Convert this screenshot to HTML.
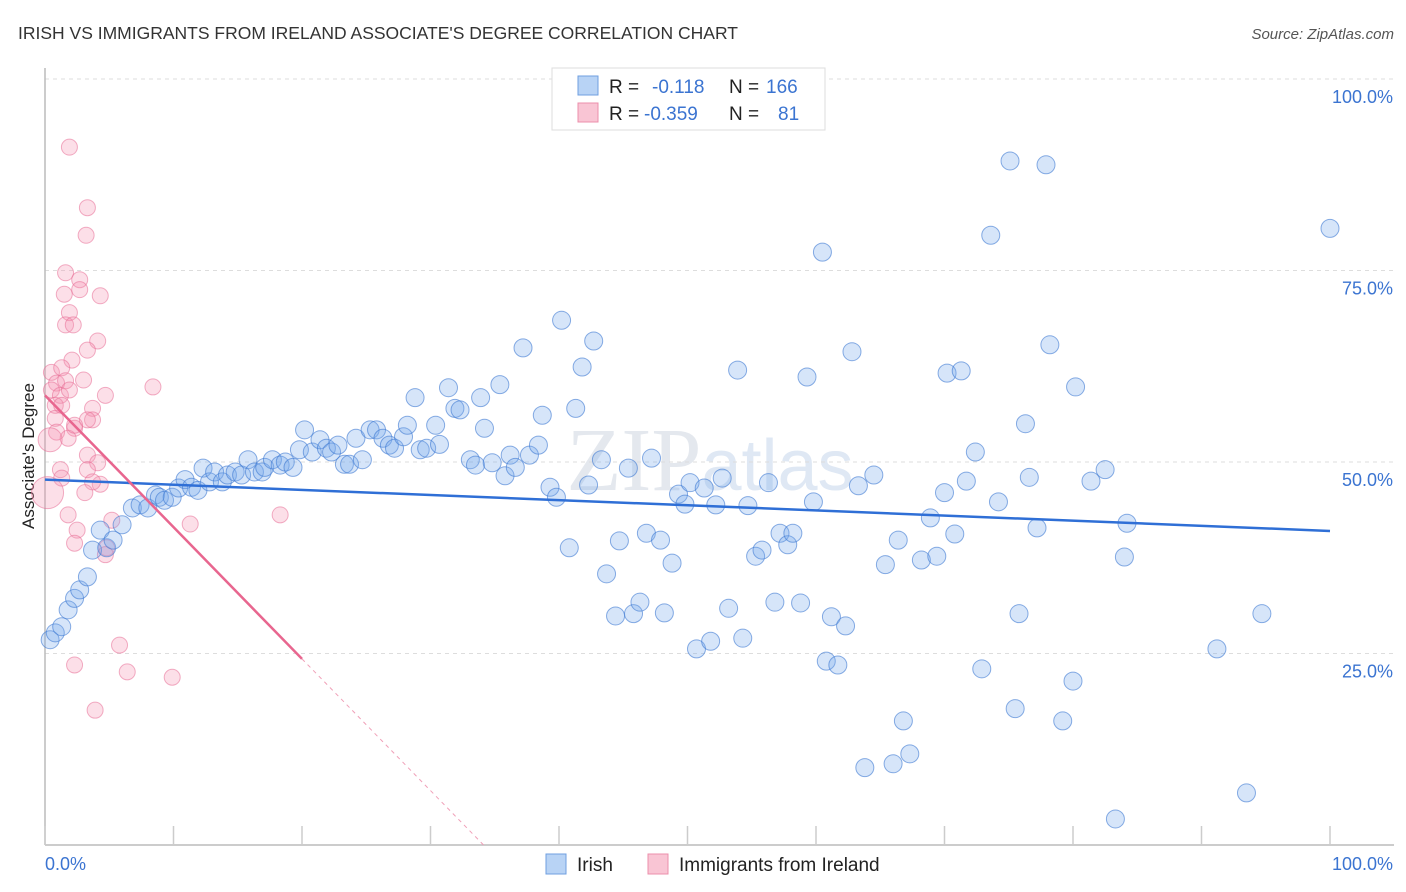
<!DOCTYPE html>
<html><head><meta charset="utf-8"><style>
body{margin:0;background:#fff;font-family:"Liberation Sans",sans-serif}
svg{display:block}
</style></head><body>
<svg id="chart" width="1406" height="892">
<text x="18" y="39" font-size="17.5" fill="#333">IRISH VS IMMIGRANTS FROM IRELAND ASSOCIATE'S DEGREE CORRELATION CHART</text>
<text x="1394" y="39" font-size="15" fill="#555" font-style="italic" text-anchor="end">Source: ZipAtlas.com</text>
<text x="34" y="456" font-size="17" fill="#222" text-anchor="middle" transform="rotate(-90 34 456)">Associate's Degree</text>
<text x="710" y="490" font-size="90" fill="#e4e8ee" text-anchor="middle" font-family="Liberation Serif,serif">ZIP<tspan font-family="Liberation Sans,sans-serif" font-size="72" fill="#dfe8f4">atlas</tspan></text>
<g id="grid"></g><g id="axes"></g><g id="pinkdots"></g><g id="bluedots"></g><g id="lines"></g>
<g>
<rect x="552" y="68" width="273" height="62" fill="#fff" stroke="#ddd"/>
<rect x="578" y="76" width="20" height="19" fill="#b8d3f5" stroke="#6f9fe0"/>
<rect x="578" y="103" width="20" height="19" fill="#f9c5d4" stroke="#ec8fab"/>
<text x="609" y="93" font-size="19" fill="#222">R = </text><text x="652" y="93" font-size="19" fill="#3b74d1">-0.118</text>
<text x="729" y="93" font-size="19" fill="#222">N = </text><text x="766" y="93" font-size="19" fill="#3b74d1">166</text>
<text x="609" y="120" font-size="19" fill="#222">R = </text><text x="644" y="120" font-size="19" fill="#3b74d1">-0.359</text>
<text x="729" y="120" font-size="19" fill="#222">N = </text><text x="778" y="120" font-size="19" fill="#3b74d1">81</text>
</g>
<g>
<rect x="546" y="854" width="20" height="20" fill="#b8d3f5" stroke="#6f9fe0"/>
<text x="577" y="871" font-size="19" fill="#222">Irish</text>
<rect x="648" y="854" width="20" height="20" fill="#f9c5d4" stroke="#ec8fab"/>
<text x="679" y="871" font-size="19" fill="#222">Immigrants from Ireland</text>
</g>
</svg>
<script>
const blueX=[0.4,0.8,1.3,1.8,2.3,2.7,3.3,3.7,4.3,4.8,5.3,6.0,6.8,7.4,8.0,8.6,8.9,9.3,9.9,10.4,10.9,11.4,11.9,12.3,12.8,13.2,13.8,14.2,14.8,15.3,15.8,16.3,16.9,17.1,17.7,18.3,18.7,19.3,19.8,20.2,20.8,21.4,21.9,22.3,22.8,23.3,23.7,24.2,24.7,25.3,25.8,26.3,26.8,27.2,27.9,28.2,28.8,29.2,29.7,30.4,30.7,31.4,31.9,32.3,33.1,33.5,33.9,34.2,34.8,35.4,35.8,36.2,36.6,37.2,37.7,38.4,38.7,39.3,39.8,40.2,40.8,41.3,41.8,42.3,42.7,43.3,43.7,44.4,44.7,45.4,45.8,46.3,46.8,47.2,47.9,48.2,48.8,49.3,49.8,50.2,50.7,51.3,51.8,52.2,52.7,53.2,53.9,54.3,54.7,55.3,55.8,56.3,56.8,57.2,57.8,58.2,58.8,59.3,59.8,60.5,60.8,61.2,61.7,62.3,62.8,63.3,63.8,64.5,65.4,66.0,66.4,66.8,67.3,68.2,68.9,69.4,70.0,70.2,70.8,71.3,71.7,72.4,72.9,73.6,74.2,75.1,75.5,75.8,76.3,76.6,77.2,77.9,78.2,79.2,80.0,80.2,81.4,82.5,83.3,84.0,84.2,91.2,93.5,94.7,100.0];
const blueY=[26.8,27.7,28.5,30.7,32.2,33.3,35.0,38.5,41.1,38.8,39.8,41.8,44.0,44.4,44.0,45.7,45.4,45.0,45.4,46.6,47.7,46.7,46.3,49.2,47.4,48.7,47.4,48.3,48.7,48.3,50.3,48.7,48.7,49.3,50.3,49.6,50.0,49.3,51.6,54.2,51.3,52.9,51.8,51.3,52.2,49.7,49.7,53.1,50.3,54.2,54.2,53.1,52.2,51.8,53.3,54.8,58.4,51.6,51.8,54.8,52.3,59.7,57.0,56.8,50.3,49.6,58.4,54.4,49.9,60.1,48.2,50.9,49.3,64.9,50.9,52.2,56.1,46.7,45.4,68.5,38.8,57.0,62.4,47.0,65.8,50.3,35.4,29.9,39.7,49.2,30.2,31.7,40.7,50.5,39.8,30.3,36.8,45.8,44.5,47.3,25.6,46.6,26.6,44.4,47.9,30.9,62.0,27.0,44.3,37.7,38.5,47.3,31.7,40.7,39.2,40.7,31.6,61.1,44.8,77.4,24.0,29.8,23.5,28.6,64.4,46.9,10.1,48.3,36.6,10.6,39.8,16.2,11.9,37.2,42.7,37.7,46.0,61.6,40.6,61.9,47.5,51.3,23.0,79.6,44.8,89.3,17.8,30.2,55.0,48.0,41.4,88.8,65.3,16.2,21.4,59.8,47.5,49.0,3.4,37.6,42.0,25.6,6.8,30.2,80.5];
const pinkX=[1.9,3.3,3.2,1.6,2.7,1.5,2.7,4.3,1.9,1.6,2.2,4.1,2.1,3.3,0.5,1.3,0.9,1.6,0.5,1.2,1.9,3.0,4.7,8.4,0.8,1.3,3.7,3.7,0.8,2.3,3.3,0.9,1.8,0.4,2.3,1.2,3.3,4.1,3.3,1.3,4.3,3.7,0.2,3.1,1.8,2.5,5.2,11.3,18.3,2.3,4.8,4.7,5.8,2.3,6.4,9.9,3.9];
const pinkY=[91.1,83.2,79.6,74.7,73.8,71.9,72.5,71.7,69.5,67.9,67.9,65.8,63.3,64.6,61.7,62.3,60.3,60.6,59.4,58.7,59.4,60.7,58.7,59.8,57.4,57.4,57.0,55.5,55.7,54.4,55.5,53.9,53.1,52.9,54.8,49.0,50.9,49.9,49.0,47.9,47.1,47.4,46.0,46.0,43.1,41.1,42.4,41.9,43.1,39.4,38.8,37.9,26.1,23.5,22.6,21.9,17.6];
const pinkR=[8,8,8,8,8,8,8,8,8,8,8,8,8,8,8,8,8,8,8,8,8,8,8,8,8,8,8,8,8,8,8,8,8,12,8,8,8,8,8,8,8,8,16,8,8,8,8,8,8,8,8,8,8,8,8,8,8];
const yTicks=[25,50,75,100];
const yTickLabels=["25.0%","50.0%","75.0%","100.0%"];
const xTicks=[0,10,20,30,40,50,60,70,80,90,100];
const blueTrend=[47.7,41.0];
const pinkTrend=[58.7,-1.72];
const NS="http://www.w3.org/2000/svg";
const xs=v=>45+v*12.85, ys=v=>845-v*7.66;
function mk(t,a,p){const e=document.createElementNS(NS,t);for(const k in a)e.setAttribute(k,a[k]);p.appendChild(e);return e;}
const grid=document.getElementById('grid'),axes=document.getElementById('axes');
yTicks.forEach((v,i)=>{
 const l=mk('line',{x1:45,x2:1394,y1:ys(v),y2:ys(v),stroke:'#ddd','stroke-dasharray':'4,4'},grid);
 
 
 const t=mk('text',{x:1393,y:ys(v)+24,'font-size':18,fill:'#3b74d1','text-anchor':'end'},axes);
 t.textContent=yTickLabels[i];
 
 
});
mk('line',{x1:45,x2:45,y1:68,y2:845,stroke:'#bbb','stroke-width':1.5},axes);
const xa=mk('line',{x1:45,x2:1394,y1:845,y2:845,stroke:'#bbb','stroke-width':1.5},axes);


xTicks.forEach(v=>{
 const l=mk('line',{x1:xs(v),x2:xs(v),y1:826,y2:845,stroke:'#ccc','stroke-width':1.5},axes);
 
 
});
const t0=mk('text',{x:45,y:870,'font-size':18,fill:'#3b74d1'},axes);t0.textContent='0.0%';


const t1=mk('text',{x:1393,y:870,'font-size':18,fill:'#3b74d1','text-anchor':'end'},axes);t1.textContent='100.0%';


const pg=document.getElementById('pinkdots');
pinkX.forEach((x,i)=>{
 const c=mk('circle',{cx:xs(x),cy:ys(pinkY[i]),r:pinkR[i],fill:'rgba(244,150,180,0.3)',stroke:'rgba(232,110,150,0.55)','stroke-width':1},pg);
 
 
});
const bg=document.getElementById('bluedots');
blueX.forEach((x,i)=>{
 const c=mk('circle',{cx:xs(x),cy:ys(blueY[i]),r:9,fill:'rgba(120,170,235,0.3)',stroke:'rgba(60,120,210,0.6)','stroke-width':1},bg);
 
 
});
const lg=document.getElementById('lines');
const bl=mk('line',{x1:xs(0),y1:ys(blueTrend[0]),x2:xs(100),y2:ys(blueTrend[1]),stroke:'#2f6fd6','stroke-width':2.5},lg);


const pz=-pinkTrend[0]/pinkTrend[1];
const pl=mk('line',{x1:xs(0),y1:ys(pinkTrend[0]),x2:xs(20),y2:ys(pinkTrend[0]+pinkTrend[1]*20),stroke:'#e8668f','stroke-width':2.5},lg);


const pd=mk('line',{x1:xs(20),y1:ys(pinkTrend[0]+pinkTrend[1]*20),x2:xs(pz),y2:ys(0),stroke:'#f0a0b8','stroke-width':1,'stroke-dasharray':'4,4'},lg);


</script>
</body></html>
